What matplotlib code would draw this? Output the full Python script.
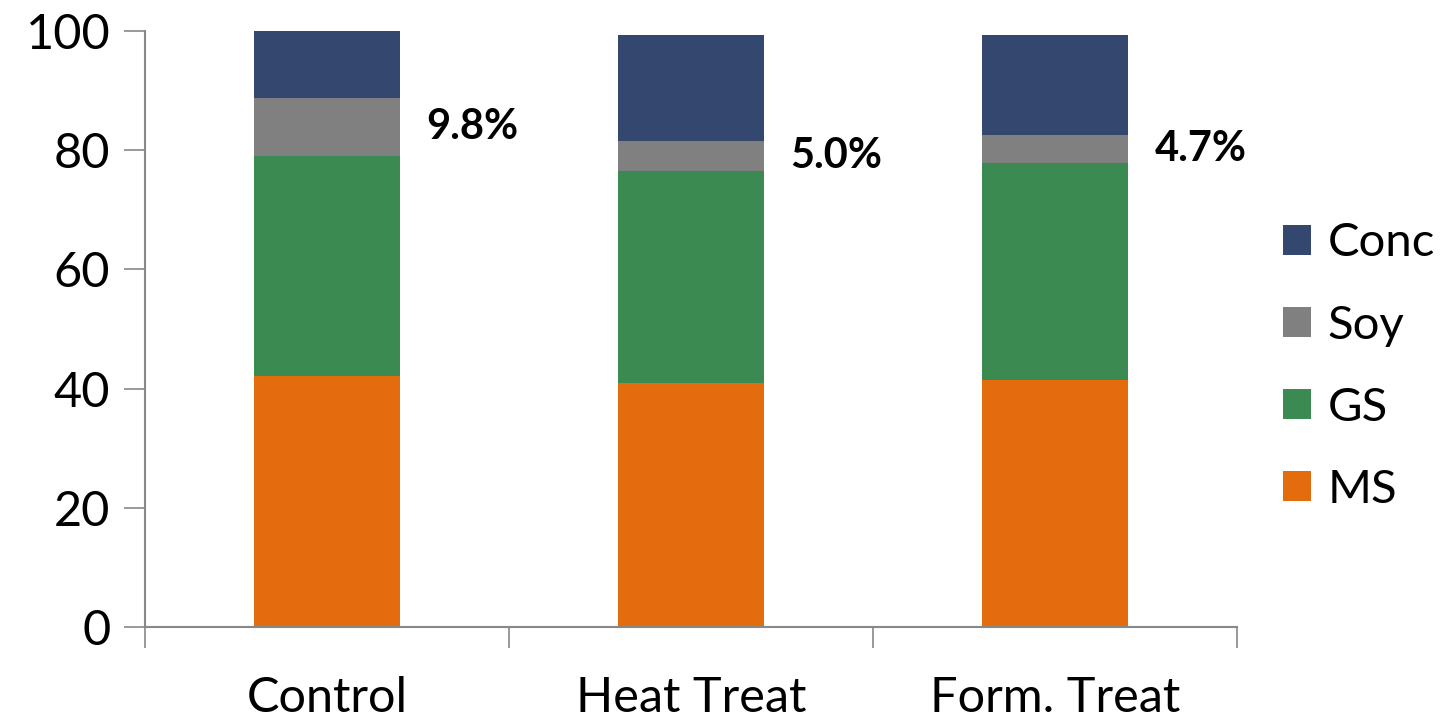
import matplotlib.pyplot as plt
import numpy as np

# Dietary composition per treatment (% of DM)
treatments = ['Control', 'Heat Treat', 'Form. Treat']
ms = [42.1, 40.9, 41.4]
gs = [36.9, 35.6, 36.5]
soy = [9.8, 5.0, 4.7]
conc = [11.2, 17.8, 16.7]

colors = {'MS': '#E36C0C', 'GS': '#3B8A51', 'Soy': '#808080', 'Conc': '#34476F'}

plt.rcParams['font.family'] = ['Lato', 'DejaVu Sans']

fig = plt.figure(figsize=(14.42, 7.19), dpi=100)
ax = fig.add_axes([0.1006, 0.128, 0.7572, 0.8289])

x = np.arange(len(treatments))
w = 0.4
bottom = np.zeros(len(x))
bars = {}
for name, vals in [('MS', ms), ('GS', gs), ('Soy', soy), ('Conc', conc)]:
    bars[name] = ax.bar(x, vals, w, bottom=bottom, color=colors[name], label=name)
    bottom = bottom + np.array(vals)

# soy share written next to each bar
soy_mid = np.array(ms) + np.array(gs) + np.array(soy) / 2
for xi, s, ym in zip(x, soy, soy_mid):
    ax.text(xi + 0.4, ym, f'{s:.1f}%', ha='center', va='center',
            fontsize=30, fontweight='bold')

ax.set_xlim(-0.5, 2.5)
ax.set_ylim(0, 100)
ax.set_yticks([0, 20, 40, 60, 80, 100])
ax.set_xticks(x)
ax.set_xticklabels(treatments)
ax.set_xticks([-0.5, 0.5, 1.5, 2.5], minor=True)
ax.tick_params(axis='x', which='major', length=0, pad=35, labelsize=35)
ax.tick_params(axis='x', which='minor', length=15, width=1.2, color='#888888')
ax.tick_params(axis='y', length=15, width=1.2, color='#888888', labelsize=35, pad=10)

for side in ['top', 'right']:
    ax.spines[side].set_visible(False)
for side in ['left', 'bottom']:
    ax.spines[side].set_color('#888888')
    ax.spines[side].set_linewidth(1.5)

handles = [bars[k] for k in ['Conc', 'Soy', 'GS', 'MS']]
fig.legend(handles, ['Conc', 'Soy', 'GS', 'MS'], loc='center left',
           bbox_to_anchor=(0.86, 0.49), frameon=False, fontsize=34,
           handlelength=0.6, handleheight=0.6, handletextpad=0.35,
           labelspacing=0.85)

fig.savefig('out.png', dpi=100)
